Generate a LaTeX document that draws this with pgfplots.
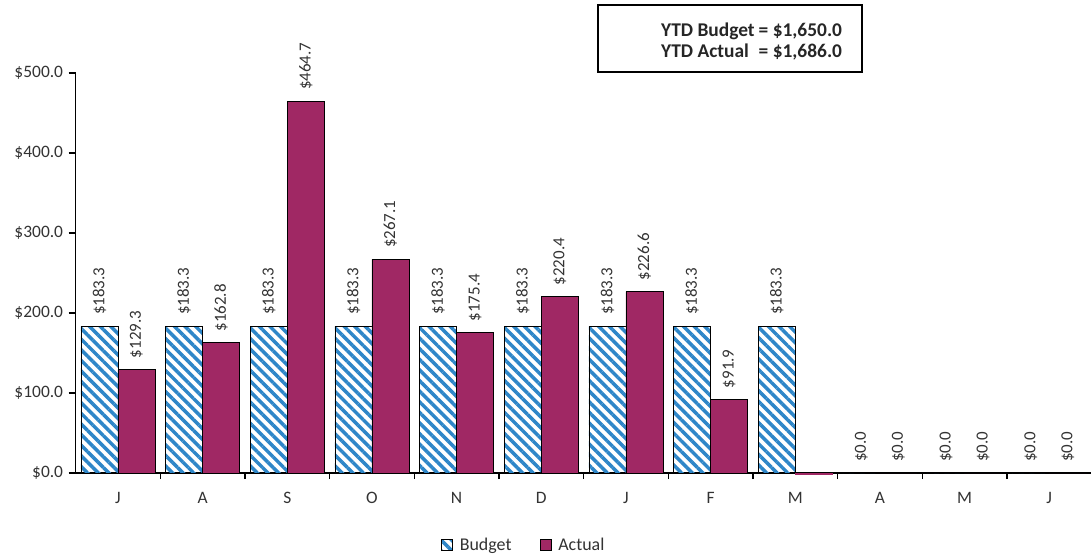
\documentclass[border=0pt]{standalone}
\usepackage{fontspec}
\setmainfont{Carlito}
\usepackage{pgfplots}
\pgfplotsset{compat=1.18}
\usetikzlibrary{patterns.meta}
\definecolor{budgetblue}{RGB}{46,134,200}
\definecolor{actualred}{RGB}{160,40,100}
\pgfplotsset{
  lbl/.style={every node near coord/.style={xshift=#1, rotate=90, anchor=west, inner xsep=11bp,
     font=\fontsize{17}{17}\selectfont, text=black!80}},
}
\begin{document}
\begin{tikzpicture}
\path[use as bounding box] (0,0) rectangle (1091bp,555bp);
\begin{axis}[
  at={(75.6bp,82bp)}, anchor=south west,
  scale only axis, width=1016bp, height=400bp,
  xmin=-0.5, xmax=11.5, ymin=0, ymax=500,
  clip=false,
  axis x line*=bottom, axis y line*=left,
  axis line style={-, black, line width=1.2bp},
  tick align=outside,
  xtick={0,...,11},
  xticklabels={J,A,S,O,N,D,J,F,M,A,M,J},
  major x tick style={draw=none},
  minor xtick={0.5,1.5,...,10.5},
  minor tick length=6bp, major tick length=7bp,
  every tick/.style={black, line width=1.2bp},
  ytick={0,100,200,300,400,500},
  yticklabels={\$0.0,\$100.0,\$200.0,\$300.0,\$400.0,\$500.0},
  ticklabel style={font=\fontsize{17.5}{17.5}\selectfont, text=black!80},
  xticklabel style={yshift=-9bp},
  yticklabel style={xshift=-2bp},
  point meta=explicit symbolic,
  nodes near coords,
  legend style={draw=none, at={(0.443,-0.18)}, anchor=center, legend columns=2,
     font=\fontsize{18}{18}\selectfont, text=black!80,
     /tikz/every even column/.append style={column sep=22bp},
     /tikz/every odd column/.append style={column sep=1bp},
     nodes={inner xsep=6bp}},
  legend image code/.code={\draw[#1, draw=black, line width=0.8bp] (0bp,-5.5bp) rectangle (11bp,5.5bp);},
]
\addplot[ybar, bar width=37bp, bar shift=-18.5bp, draw=black, line width=0.8bp,
   pattern={Lines[angle=-45, distance=7.5bp, line width=3.5bp]}, pattern color=budgetblue,
   lbl=-18.5bp]
 coordinates {(0,183.3) [\$183.3] (1,183.3) [\$183.3] (2,183.3) [\$183.3] (3,183.3) [\$183.3]
 (4,183.3) [\$183.3] (5,183.3) [\$183.3] (6,183.3) [\$183.3] (7,183.3) [\$183.3]
 (8,183.3) [\$183.3] (9,0) [\$0.0] (10,0) [\$0.0] (11,0) [\$0.0]};
\addlegendentry{Budget}
\addplot[ybar, bar width=37bp, bar shift=18.5bp, draw=black, line width=0.8bp, fill=actualred,
   lbl=18.5bp]
 coordinates {(0,129.3) [\$129.3] (1,162.8) [\$162.8] (2,464.7) [\$464.7] (3,267.1) [\$267.1]
 (4,175.4) [\$175.4] (5,220.4) [\$220.4] (6,226.6) [\$226.6] (7,91.9) [\$91.9]
 (9,0) [\$0.0] (10,0) [\$0.0] (11,0) [\$0.0]};
\addlegendentry{Actual}
\addplot[ybar, bar width=37bp, bar shift=18.5bp, draw=actualred, line width=0.8bp, fill=actualred,
   nodes near coords=\empty, forget plot]
 coordinates {(8,-1.5) [{}]};
\end{axis}
\draw[line width=1.3bp] (598bp,483bp) rectangle (862bp,550bp);
\node[anchor=west, inner sep=0pt, font=\bfseries\fontsize{19.5}{22}\selectfont, text=black!85]
  at (661bp,512.5bp)
  {\begin{tabular}{@{}l@{\hspace{4bp}}l@{}}YTD Budget & = \$1,650.0\\[-1bp] YTD Actual & = \$1,686.0\end{tabular}};
\end{tikzpicture}
\end{document}
